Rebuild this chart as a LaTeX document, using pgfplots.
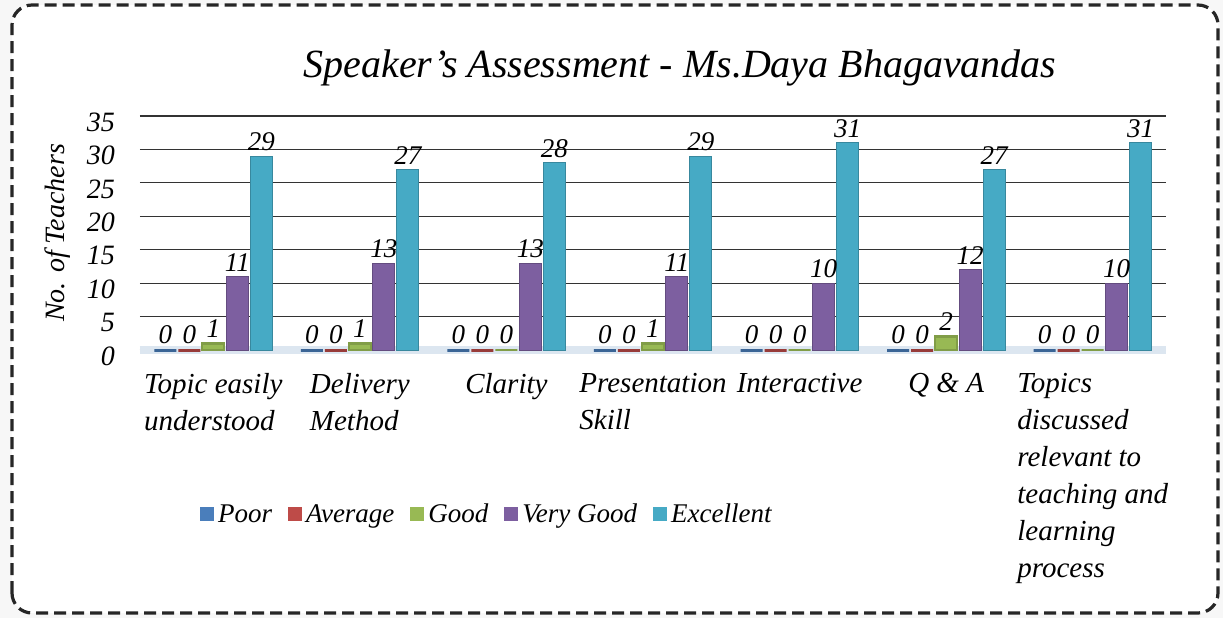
\documentclass[border=0pt]{standalone}
\usepackage{fontspec}
\setmainfont{Liberation Serif}[ItalicFont={Liberation Serif Italic}]
\usepackage{pgfplots}
\pgfplotsset{compat=1.18}
\definecolor{cPoor}{HTML}{4A7EBB}
\definecolor{cAvg}{HTML}{BE4B48}
\definecolor{cGood}{HTML}{98B954}
\definecolor{cVG}{HTML}{7D5FA0}
\definecolor{cExc}{HTML}{46AAC5}
\definecolor{floorblue}{HTML}{DCE6F0}
\definecolor{lightgrid}{HTML}{C9D6E0}
\begin{document}
\begin{tikzpicture}
\useasboundingbox (-70pt,-134pt) rectangle (541.5pt,175pt);
\fill[black!3] (-70pt,-134pt) rectangle (541.5pt,175pt);
\fill[white, rounded corners=10pt] (-64pt,-131.5pt) rectangle (539pt,172.5pt);
\draw[line width=1.6pt, dash pattern=on 6pt off 3pt, rounded corners=10pt, black!85] (-64pt,-131.5pt) rectangle (539pt,172.5pt);
\begin{axis}[
  scale only axis,
  width=513pt, height=117pt,
  xmin=-0.5, xmax=6.5, ymin=0, ymax=35,
  ybar=1pt, bar width=11pt,
  axis line style={draw=none},
  major tick length=0pt,
  xtick=data,
  xticklabels={{Topic easily\\understood},{Delivery\\Method},{Clarity},{Presentation\\Skill},{Interactive},{Q \& A},{Topics\\discussed\\relevant to\\teaching and\\learning\\process}},
  xticklabel style={font=\fontsize{14.5}{18.5}\selectfont\itshape, align=left, anchor=north, yshift=-8pt},
  ytick={5,10,15,20,25},
  extra y ticks={0,30,35},
  extra y tick style={grid style={lightgrid, line width=0.8pt}},
  ymajorgrids,
  major grid style={black!80, line width=0.6pt},
  /pgf/number format/assume math mode=true,
  yticklabel style={font=\fontsize{14}{16}\selectfont\itshape, xshift=-9pt, yshift=-3pt},
  ylabel={No. of Teachers},
  ylabel style={font=\fontsize{14}{16}\selectfont\itshape, at={(axis description cs:-0.08,0.5)}, anchor=center, rotate=0},
  nodes near coords,
  every node near coord/.append style={font=\fontsize{13.5}{16}\selectfont\itshape, black, yshift=-1pt},
  legend columns=5,
  legend style={draw=none, fill=none, at={(0.339,-0.705)}, anchor=center,
    font=\fontsize{13.5}{16}\selectfont\itshape, /tikz/every even column/.append style={column sep=6pt}},
  legend image code/.code={\fill[#1, draw=none] (0pt,-3pt) rectangle (7pt,4pt);},
  clip=false,
]
\draw[floorblue, line width=4pt] (axis cs:-0.5,0) -- (axis cs:6.5,0);
\addplot[draw=cPoor!80!black, line width=1.5pt, fill=cPoor] coordinates {(0,0) (1,0) (2,0) (3,0) (4,0) (5,0) (6,0)};
\addplot[draw=cAvg!80!black, line width=1.5pt, fill=cAvg] coordinates {(0,0) (1,0) (2,0) (3,0) (4,0) (5,0) (6,0)};
\addplot[draw=cGood!85!black, line width=1.2pt, fill=cGood] coordinates {(0,1) (1,1) (2,0) (3,1) (4,0) (5,2) (6,0)};
\addplot[draw=cVG!80!black, line width=0.5pt, fill=cVG] coordinates {(0,11) (1,13) (2,13) (3,11) (4,10) (5,12) (6,10)};
\addplot[draw=cExc!80!black, line width=0.5pt, fill=cExc] coordinates {(0,29) (1,27) (2,28) (3,29) (4,31) (5,27) (6,31)};
\legend{Poor,Average,Good,Very Good,Excellent}
\end{axis}
\node[font=\fontsize{20}{24}\selectfont\itshape] at (270pt,141pt) {Speaker's Assessment - Ms.Daya Bhagavandas};
\end{tikzpicture}
\end{document}
